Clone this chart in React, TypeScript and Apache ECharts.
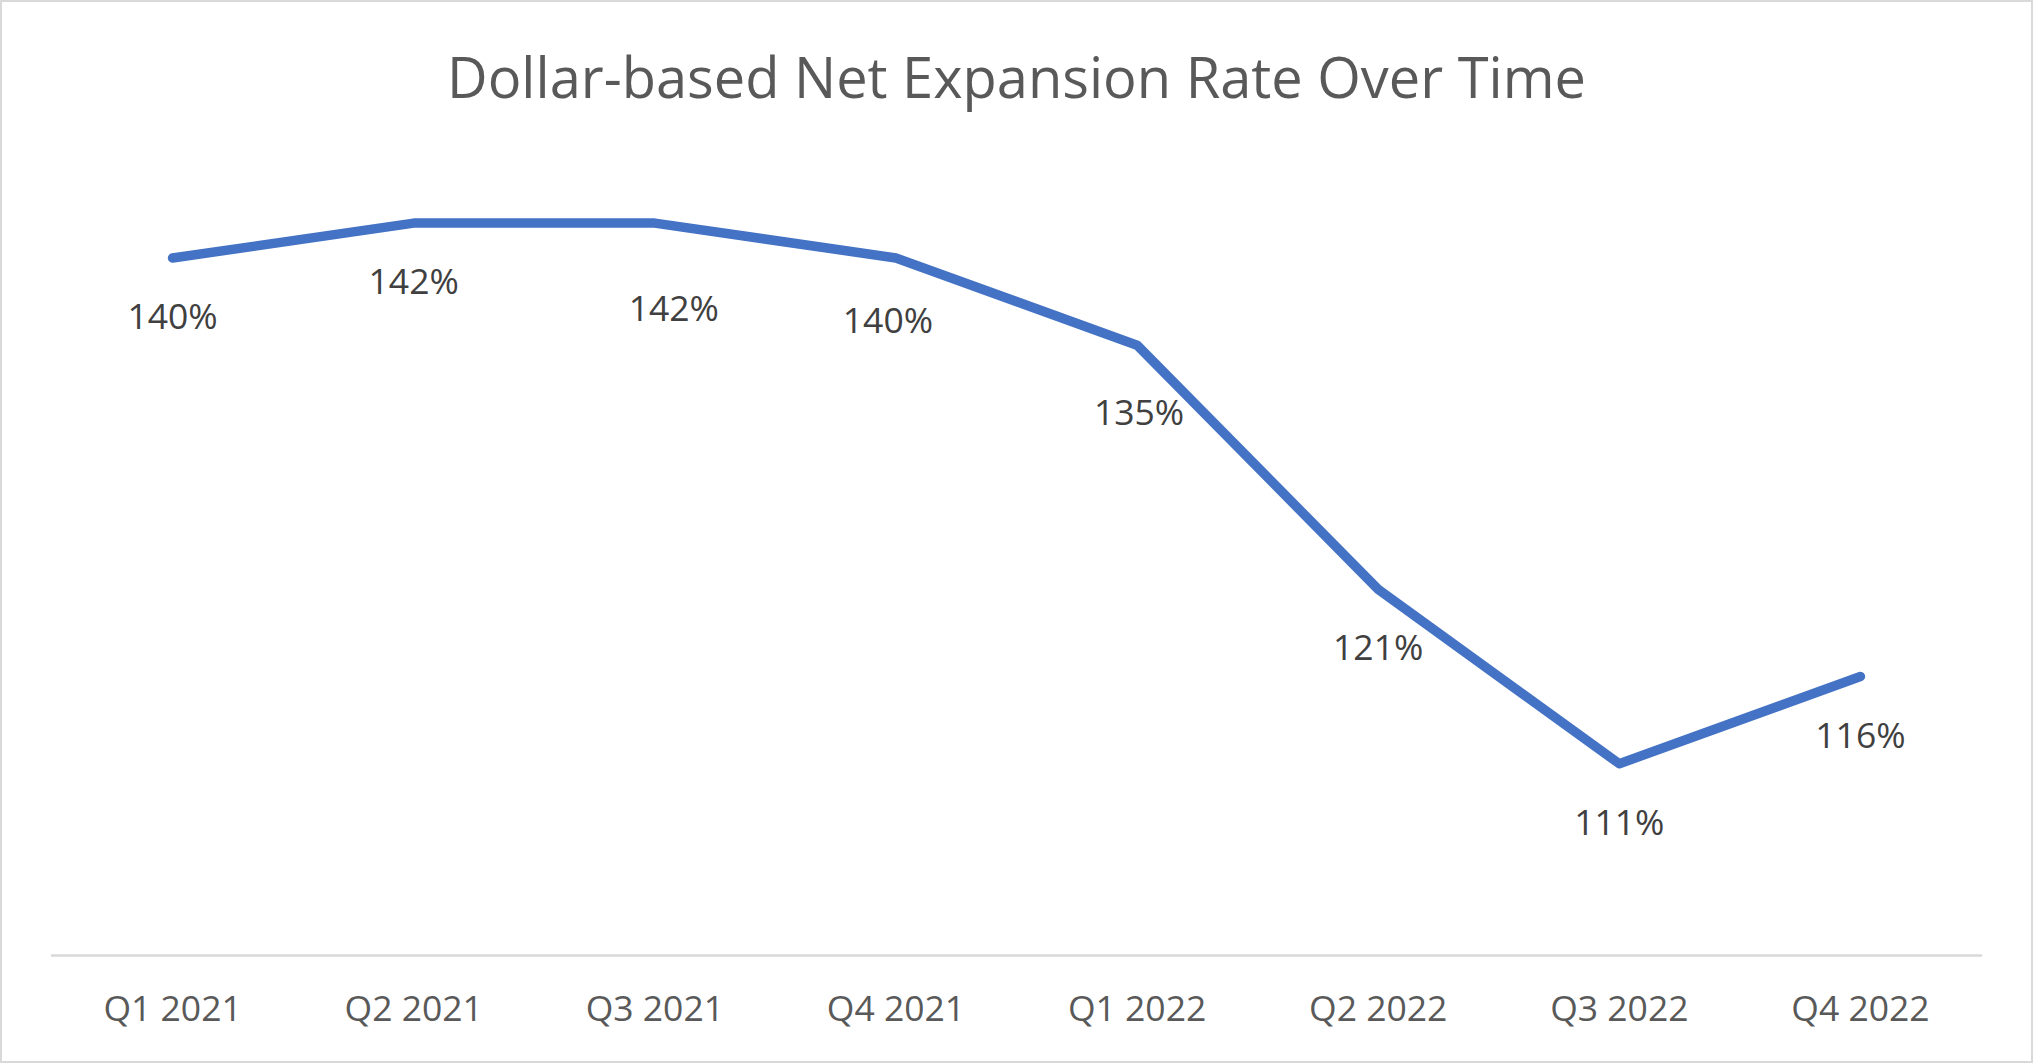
import React, { useEffect, useRef } from "react";
import * as echarts from "echarts";

const categories = ["Q1 2021", "Q2 2021", "Q3 2021", "Q4 2021", "Q1 2022", "Q2 2022", "Q3 2022", "Q4 2022"];
const rates = [140, 142, 142, 140, 135, 121, 111, 116];
const titleText = "Dollar-based Net Expansion Rate Over Time";

// label placement (offset from the point, px) – styling only
const labelDx = [0, 0, 19, -8, 2, 0, 0, 0];
const labelDy = [57, 57, 84, 61, 66, 57, 57, 57];

export default function App() {
  const ref = useRef<HTMLDivElement>(null);
  useEffect(() => {
    const chart = echarts.init(ref.current!, null, { renderer: "svg" });
    const font = "'Open Sans', sans-serif";
    chart.setOption({
      animation: false,
      backgroundColor: "#ffffff",
      title: {
        text: titleText,
        left: "center",
        top: 43,
        textStyle: { fontFamily: font, fontSize: 56, fontWeight: "normal", color: "#595959" },
      },
      grid: { left: 52, right: 52, top: 83.6, bottom: 107.4, containLabel: false },
      xAxis: {
        type: "category",
        data: categories,
        boundaryGap: true,
        axisLine: { show: true, lineStyle: { color: "#d9d9d9", width: 2.5 } },
        axisTick: { show: false },
        axisLabel: { color: "#595959", fontFamily: font, fontSize: 35.5, margin: 33 },
        splitLine: { show: false },
      },
      yAxis: {
        type: "value",
        min: 100,
        max: 150,
        show: false,
        splitLine: { show: false },
      },
      series: [
        {
          type: "line",
          data: rates.map((v, i) => ({
            value: v,
            label: { offset: [labelDx[i], labelDy[i]] },
          })),
          symbol: "circle",
          symbolSize: 1,
          showSymbol: true,
          itemStyle: { color: "rgba(68,114,196,0)" },
          lineStyle: { color: "#4472C4", width: 9.5, cap: "round", join: "round" },
          label: {
            show: true,
            position: "inside",
            formatter: (p: any) => p.value + "%",
            color: "#404040",
            fontFamily: font,
            fontSize: 35.5,
          },
        },
      ],
      graphic: [
        {
          type: "rect",
          shape: { x: 1, y: 1, width: 2031, height: 1061 },
          style: { fill: "none", stroke: "#d9d9d9", lineWidth: 2 },
          silent: true,
        },
      ],
    });
    return () => chart.dispose();
  }, []);
  return (
    <div
      ref={ref}
      style={{ position: "absolute", left: 0, top: 0, width: 2033, height: 1063 }}
    />
  );
}
